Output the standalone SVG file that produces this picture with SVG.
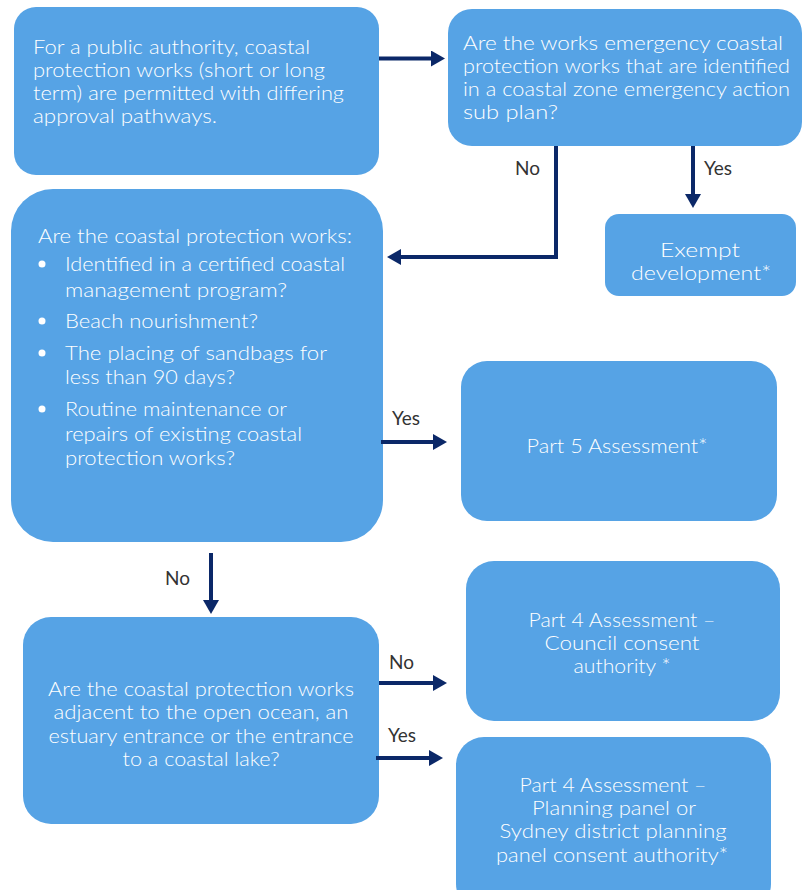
<svg xmlns="http://www.w3.org/2000/svg" width="804" height="890" viewBox="0 0 804 890">
<style>
.box{fill:#56a3e5}
.t{font-family:Lato,"Open Sans","Liberation Sans",sans-serif;font-size:20px;font-weight:300;fill:#ffffff}
.c{text-anchor:middle}
.lbl{font-family:Lato,"Liberation Sans",sans-serif;font-size:19px;fill:#333333}
.arr{fill:none;stroke:#0b2868;stroke-width:4}
</style>
<defs>
<marker id="ah" viewBox="0 0 14 16" refX="6" refY="8" markerWidth="14" markerHeight="16" markerUnits="userSpaceOnUse" orient="auto">
<path d="M0,0 L14,8 L0,16 z" fill="#0b2868"/>
</marker>
</defs>
<rect width="804" height="890" fill="#ffffff"/>

<g id="n1">
<rect class="box" x="14" y="7" width="365" height="168" rx="22"/>
<text class="t" x="33" y="54" textLength="277" lengthAdjust="spacingAndGlyphs">For a public authority, coastal</text>
<text class="t" x="33" y="77" textLength="292" lengthAdjust="spacingAndGlyphs">protection works (short or long</text>
<text class="t" x="33" y="100" textLength="311" lengthAdjust="spacingAndGlyphs">term) are permitted with differing</text>
<text class="t" x="33" y="123" textLength="184" lengthAdjust="spacingAndGlyphs">approval pathways.</text>
</g>

<g id="n2">
<rect class="box" x="448" y="9" width="354" height="137" rx="24"/>
<text class="t" x="463" y="50" textLength="320" lengthAdjust="spacingAndGlyphs">Are the works emergency coastal</text>
<text class="t" x="463" y="73" textLength="327" lengthAdjust="spacingAndGlyphs">protection works that are identified</text>
<text class="t" x="463" y="96" textLength="327" lengthAdjust="spacingAndGlyphs">in a coastal zone emergency action</text>
<text class="t" x="463" y="119" textLength="95" lengthAdjust="spacingAndGlyphs">sub plan?</text>
</g>

<g id="n3">
<rect class="box" x="605" y="214" width="191" height="82" rx="14"/>
<text class="t c" x="700" y="257" textLength="80" lengthAdjust="spacingAndGlyphs">Exempt</text>
<text class="t c" x="701" y="280" textLength="140" lengthAdjust="spacingAndGlyphs">development*</text>
</g>

<g id="n4">
<rect class="box" x="11" y="189" width="372" height="353" rx="42"/>
<text class="t" x="38" y="243" textLength="314" lengthAdjust="spacingAndGlyphs">Are the coastal protection works:</text>
<circle cx="42" cy="264" r="3.5" fill="#ffffff"/>
<text class="t" x="65" y="271" textLength="280" lengthAdjust="spacingAndGlyphs">Identified in a certified coastal</text>
<text class="t" x="65" y="297" textLength="222" lengthAdjust="spacingAndGlyphs">management program?</text>
<circle cx="42" cy="321" r="3.5" fill="#ffffff"/>
<text class="t" x="65" y="328" textLength="193" lengthAdjust="spacingAndGlyphs">Beach nourishment?</text>
<circle cx="42" cy="353" r="3.5" fill="#ffffff"/>
<text class="t" x="65" y="360" textLength="262" lengthAdjust="spacingAndGlyphs">The placing of sandbags for</text>
<text class="t" x="65" y="384" textLength="170" lengthAdjust="spacingAndGlyphs">less than 90 days?</text>
<circle cx="42" cy="409" r="3.5" fill="#ffffff"/>
<text class="t" x="65" y="416" textLength="222" lengthAdjust="spacingAndGlyphs">Routine maintenance or</text>
<text class="t" x="65" y="441" textLength="237" lengthAdjust="spacingAndGlyphs">repairs of existing coastal</text>
<text class="t" x="65" y="465" textLength="170" lengthAdjust="spacingAndGlyphs">protection works?</text>
</g>

<g id="n5">
<rect class="box" x="461" y="361" width="316" height="160" rx="26"/>
<text class="t c" x="617" y="453" textLength="181" lengthAdjust="spacingAndGlyphs">Part 5 Assessment*</text>
</g>

<g id="n6">
<rect class="box" x="23" y="617" width="356" height="207" rx="28"/>
<text class="t c" x="201" y="696" textLength="306" lengthAdjust="spacingAndGlyphs">Are the coastal protection works</text>
<text class="t c" x="201" y="719" textLength="295" lengthAdjust="spacingAndGlyphs">adjacent to the open ocean, an</text>
<text class="t c" x="201" y="743" textLength="305" lengthAdjust="spacingAndGlyphs">estuary entrance or the entrance</text>
<text class="t c" x="201" y="766" textLength="157" lengthAdjust="spacingAndGlyphs">to a coastal lake?</text>
</g>

<g id="n7">
<rect class="box" x="466" y="561" width="314" height="160" rx="28"/>
<text class="t c" x="622" y="627" textLength="187" lengthAdjust="spacingAndGlyphs">Part 4 Assessment –</text>
<text class="t c" x="622" y="650" textLength="155" lengthAdjust="spacingAndGlyphs">Council consent</text>
<text class="t c" x="622" y="673" textLength="97" lengthAdjust="spacingAndGlyphs">authority *</text>
</g>

<g id="n8">
<rect class="box" x="456" y="737" width="315" height="175" rx="28"/>
<text class="t c" x="613" y="792" textLength="187" lengthAdjust="spacingAndGlyphs">Part 4 Assessment –</text>
<text class="t c" x="614" y="815" textLength="164" lengthAdjust="spacingAndGlyphs">Planning panel or</text>
<text class="t c" x="613" y="838" textLength="227" lengthAdjust="spacingAndGlyphs">Sydney district planning</text>
<text class="t c" x="612" y="862" textLength="232" lengthAdjust="spacingAndGlyphs">panel consent authority*</text>
</g>

<g id="connectors">
<path class="arr" d="M379,58.5 H437" marker-end="url(#ah)"/>
<path class="arr" d="M556,146 V257 H395" marker-end="url(#ah)"/>
<path class="arr" d="M693,146 V200" marker-end="url(#ah)"/>
<path class="arr" d="M381,442 H439" marker-end="url(#ah)"/>
<path class="arr" d="M211,553 V606" marker-end="url(#ah)"/>
<path class="arr" d="M379,683 H439" marker-end="url(#ah)"/>
<path class="arr" d="M376,758 H435" marker-end="url(#ah)"/>
<text class="lbl" x="515" y="175">No</text>
<text class="lbl" x="704" y="175">Yes</text>
<text class="lbl" x="392" y="425">Yes</text>
<text class="lbl" x="165" y="585">No</text>
<text class="lbl" x="389" y="669">No</text>
<text class="lbl" x="388" y="742">Yes</text>
</g>
</svg>
